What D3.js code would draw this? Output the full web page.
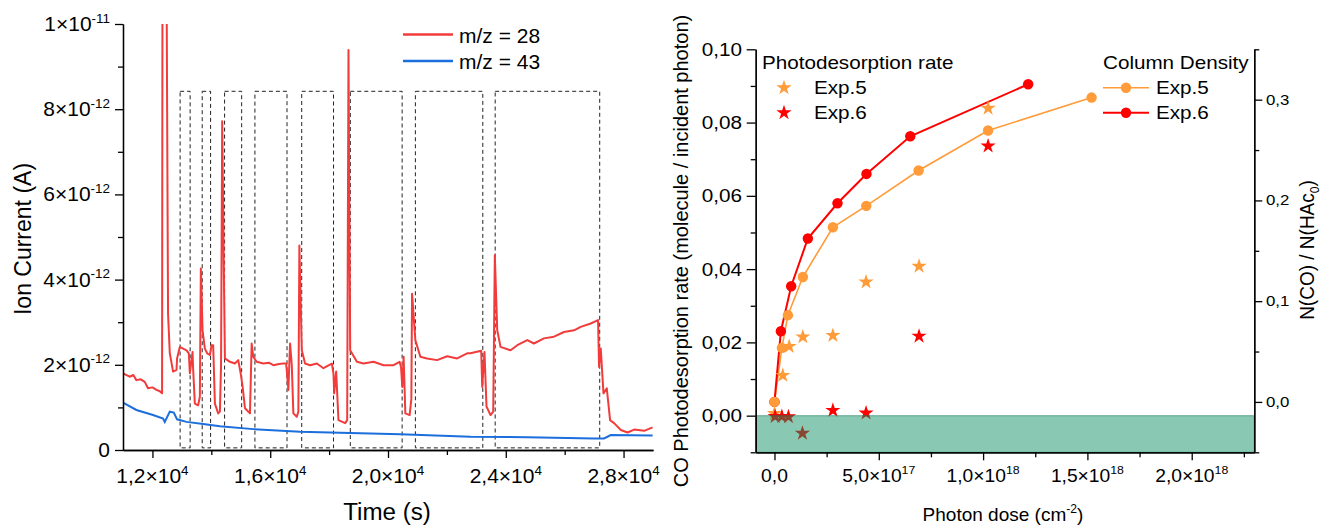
<!DOCTYPE html>
<html>
<head>
<meta charset="utf-8">
<script src="https://cdn.jsdelivr.net/npm/d3@7"></script>
<style>
  body { margin: 0; background: #fff; }
  svg { display: block; font-family: "Liberation Sans", Arial, sans-serif; }
  .axis path, .axis line { stroke: #000; stroke-width: 1.3; }
</style>
</head>
<body>
<div id="chart"></div>
<script>
// ---------- left panel: ion current vs time ----------
// [time (s), current (1e-12 A)]
const m28 = [[11000,1.80],[11227,1.72],[11350,1.76],[11455,1.64],[11600,1.66],[11738,1.60],[11850,1.45],[12000,1.47],
  [12136,1.41],[12250,1.38],[12327,1.33],[12345,14],[12460,14],[12530,3.2],[12589,2.27],[12701,1.84],[12817,1.88],
  [12837,2.15],[12929,2.42],[13157,2.34],[13236,2.27],[13270,1.80],[13362,2.30],[13382,1.90],[13440,1.09],[13552,1.05],
  [13610,1.25],[13644,4.26],[13702,2.81],[13780,2.38],[13859,2.27],[13950,2.23],[14008,2.46],[14063,2.46],[14121,1.09],
  [14233,0.86],[14291,0.90],[14330,2.0],[14369,7.72],[14420,4.5],[14461,2.15],[14631,2.07],[14801,2.03],[14914,2.11],
  [14996,1.80],[15064,1.48],[15142,0.98],[15312,0.86],[15370,2.50],[15424,2.19],[15540,2.07],[15765,2.03],[15950,2.05],
  [16105,1.99],[16300,2.02],[16446,2.03],[16538,2.03],[16561,1.88],[16616,1.41],[16674,2.50],[16732,2.00],[16786,0.86],
  [16902,0.78],[16956,0.90],[16990,4.80],[17072,2.34],[17184,2.03],[17354,1.99],[17583,2.03],[17807,1.92],[18093,2.03],
  [18148,1.80],[18172,1.33],[18240,1.84],[18318,0.70],[18546,0.63],[18614,0.70],[18658,9.39],[18716,2.34],[18944,2.07],
  [19169,2.03],[19509,2.07],[19850,1.99],[20190,1.99],[20394,2.07],[20442,1.95],[20486,1.48],[20531,2.19],[20589,0.86],
  [20735,0.82],[20793,1.20],[20817,3.67],[20929,2.58],[21099,2.19],[21327,2.15],[21668,2.11],[22008,2.20],[22348,2.15],
  [22689,2.27],[22801,2.27],[23166,2.33],[23200,1.48],[23277,2.30],[23345,1.02],[23482,0.82],[23574,0.90],[23628,4.57],
  [23710,2.81],[23822,2.42],[24163,2.34],[24391,2.46],[24731,2.58],[24956,2.50],[25296,2.62],[25637,2.66],[25977,2.77],
  [26317,2.81],[26545,2.89],[26885,2.97],[27134,3.05],[27168,1.95],[27226,2.38],[27318,1.33],[27430,1.45],[27543,0.70],
  [27679,0.63],[27907,0.47],[28135,0.41],[28360,0.48],[28700,0.45],[28986,0.53]];

const m43 = [[11000,1.11],[11455,0.94],[12020,0.82],[12361,0.74],[12419,0.66],[12589,0.90],[12725,0.88],[12837,0.72],
  [13157,0.66],[13722,0.61],[14291,0.56],[15424,0.49],[17014,0.43],[18716,0.40],[20418,0.37],[22801,0.31],[24731,0.30],
  [26998,0.27],[27338,0.27],[27566,0.35],[28986,0.34]];

const boxStart = [12940, 13690, 14450, 15480, 17070, 18720, 20930, 23640];
const boxEnd   = [13280, 13975, 15030, 16570, 18150, 20480, 23220, 27190];
const boxTop = 8.42, boxBottom = 0.05;

const leftYTicks = [0, 2, 4, 6, 8, 10];
const leftXTicks = [12000, 16000, 20000, 24000, 28000];
const leftXLabels = ["1,2", "1,6", "2,0", "2,4", "2,8"];

// ---------- right panel: photodesorption ----------
const doseCol5 = [0, 3.55e16, 6.43e16, 1.36e17, 2.8e17, 4.4e17, 6.91e17, 1.024e18, 1.52e18];
const colExp5  = [0.0, 0.0536, 0.0861, 0.124, 0.1734, 0.1946, 0.2297, 0.2694, 0.3021];
const doseCol6 = [0, 3.07e16, 8.0e16, 1.6e17, 3.02e17, 4.41e17, 6.51e17, 1.216e18];
const colExp6  = [0.0, 0.0702, 0.1148, 0.1622, 0.1972, 0.2263, 0.2637, 0.3153];

const doseRate5 = [0, 4.0e16, 7.05e16, 1.36e17, 2.8e17, 4.39e17, 6.93e17, 1.024e18];
const rateExp5  = [0.0006, 0.0110, 0.0189, 0.0215, 0.0219, 0.0365, 0.0408, 0.0839];
const doseRate6 = [3e15, 3.55e16, 6.7e16, 1.34e17, 2.8e17, 4.39e17, 6.93e17, 1.024e18];
const rateExp6  = [-0.0002, -0.0002, -0.0003, -0.0048, 0.00145, 0.0007, 0.0217, 0.0736];

const rateTicks = [0, 0.02, 0.04, 0.06, 0.08, 0.10];
const colTicks = [0, 0.1, 0.2, 0.3];
const doseTicks = [0, 5e17, 1e18, 1.5e18, 2e18];
const doseLabels = [["0,0"], ["5,0×10", "17"], ["1,0×10", "18"], ["1,5×10", "18"], ["2,0×10", "18"]];

const c5 = "#FF9B38", c6 = "#FF0000";

const W = 1336, H = 529;
const svg = d3.select("#chart").append("svg").attr("width", W).attr("height", H);
svg.append("rect").attr("width", W).attr("height", H).attr("fill", "#fff");

// text with optional superscript / subscript parts, stretched horizontally
function label(g, x, y, parts, o) {
  const size = o.size, sx = o.sx || 1, rot = o.rot || 0;
  const scale = rot ? `scale(1,${sx})` : `scale(${sx},1)`;
  const t = g.append("text")
    .attr("transform", `translate(${x},${y}) rotate(${rot}) ${scale}`)
    .attr("font-size", size)
    .attr("text-anchor", o.anchor || "start")
    .attr("fill", "#000");
  let shift = 0;
  parts.forEach(p => {
    if (typeof p === "string") p = { t: p };
    const ts = t.append("tspan").text(p.t);
    let target = 0;
    if (p.sup) { ts.attr("font-size", size * 0.64); target = -size * 0.42; }
    if (p.sub) { ts.attr("font-size", size * 0.64); target = size * 0.22; }
    if (target - shift !== 0) ts.attr("dy", target - shift);
    shift = target;
  });
  return t;
}

// ================= LEFT =================
const xL = d3.scaleLinear().domain([11000, 29000]).range([123, 653]);
const yL = d3.scaleLinear().domain([0, 10]).range([450, 24]);

svg.append("clipPath").attr("id", "clipL")
  .append("rect").attr("x", 123).attr("y", 24).attr("width", 530).attr("height", 426);

const gL = svg.append("g");

gL.append("g").selectAll("rect").data(boxStart).join("rect")
  .attr("x", (d) => xL(d))
  .attr("width", (d, i) => xL(boxEnd[i]) - xL(d))
  .attr("y", yL(boxTop))
  .attr("height", yL(boxBottom) - yL(boxTop))
  .attr("fill", "none")
  .attr("stroke", "#222")
  .attr("stroke-width", 1)
  .attr("stroke-dasharray", "4,3");

const lineL = d3.line().x(d => xL(d[0])).y(d => yL(d[1]));
gL.append("path").datum(m43).attr("d", lineL)
  .attr("fill", "none").attr("stroke", "#1B6EDC").attr("stroke-width", 2)
  .attr("clip-path", "url(#clipL)");
gL.append("path").datum(m28).attr("d", lineL)
  .attr("fill", "none").attr("stroke", "#F23B3B").attr("stroke-width", 2)
  .attr("stroke-linejoin", "round")
  .attr("clip-path", "url(#clipL)");

gL.append("g").attr("class", "axis").attr("transform", "translate(123,0)")
  .call(d3.axisLeft(yL).tickValues(leftYTicks).tickSize(8).tickSizeOuter(0).tickFormat(""));
gL.append("g").attr("class", "axis").attr("transform", "translate(123,0)")
  .call(d3.axisLeft(yL).tickValues([1, 3, 5, 7, 9]).tickSize(5).tickSizeOuter(0).tickFormat(""));
gL.append("g").attr("class", "axis").attr("transform", "translate(0,450)")
  .call(d3.axisBottom(xL).tickValues(leftXTicks).tickSize(8).tickSizeOuter(0).tickFormat(""));
gL.append("g").attr("class", "axis").attr("transform", "translate(0,450)")
  .call(d3.axisBottom(xL).tickValues([14000, 18000, 22000, 26000]).tickSize(5).tickSizeOuter(0).tickFormat(""));

leftYTicks.forEach(v => {
  const parts = v === 0 ? ["0"] : v === 10 ? ["1×10", { t: "-11", sup: true }] : [`${v}×10`, { t: "-12", sup: true }];
  label(gL, 110, yL(v) + 7, parts, { size: 20, anchor: "end", sx: 1.05 });
});
leftXTicks.forEach((v, i) => {
  label(gL, xL(v), 483, [leftXLabels[i] + "×10", { t: "4", sup: true }], { size: 20, anchor: "middle", sx: 1.05 });
});
label(gL, 387, 520, ["Time (s)"], { size: 23, anchor: "middle", sx: 1.05 });
label(gL, 31, 239, ["Ion Current (A)"], { size: 23, anchor: "middle", rot: -90, sx: 1.05 });

// legend
[["m/z = 28", "#F23B3B", 34.5], ["m/z = 43", "#1B6EDC", 61]].forEach(([t, c, y]) => {
  gL.append("line").attr("x1", 403).attr("x2", 453).attr("y1", y).attr("y2", y)
    .attr("stroke", c).attr("stroke-width", 2.5);
  label(gL, 459, y + 8, [t], { size: 20, sx: 1.05 });
});

// ================= RIGHT =================
const xR = d3.scaleLinear().domain([-0.09e18, 2.3e18]).range([755.7, 1254.3]);
const yRate = d3.scaleLinear().domain([-0.01, 0.10]).range([452.3, 49.3]);
const yCol = d3.scaleLinear().domain([-0.05, 0.35]).range([452.3, 49.3]);

const gR = svg.append("g");
const star = d3.symbol().type(d3.symbolStar).size(72);
const lineCol = d3.line().x(d => xR(d[0])).y(d => yCol(d[1]));

const col5 = doseCol5.map((d, i) => [d, colExp5[i]]);
const col6 = doseCol6.map((d, i) => [d, colExp6[i]]);

gR.append("path").datum(col5).attr("d", lineCol).attr("fill", "none").attr("stroke", c5).attr("stroke-width", 1.6);
gR.append("path").datum(col6).attr("d", lineCol).attr("fill", "none").attr("stroke", c6).attr("stroke-width", 2);
gR.append("g").selectAll("circle").data(col6).join("circle")
  .attr("cx", d => xR(d[0])).attr("cy", d => yCol(d[1])).attr("r", 5.2).attr("fill", c6);
gR.append("g").selectAll("circle").data(col5).join("circle")
  .attr("cx", d => xR(d[0])).attr("cy", d => yCol(d[1])).attr("r", 5.2).attr("fill", c5);

gR.append("g").selectAll("path").data(doseRate5).join("path")
  .attr("transform", (d, i) => `translate(${xR(d)},${yRate(rateExp5[i])})`)
  .attr("d", star).attr("fill", c5);
gR.append("g").selectAll("path").data(doseRate6).join("path")
  .attr("transform", (d, i) => `translate(${xR(d)},${yRate(rateExp6[i])})`)
  .attr("d", star).attr("fill", c6);

// shaded band below zero rate
gR.append("rect")
  .attr("x", xR.range()[0]).attr("width", xR.range()[1] - xR.range()[0])
  .attr("y", yRate(0)).attr("height", yRate(-0.01) - yRate(0))
  .attr("fill", "rgb(14,144,99)").attr("fill-opacity", 0.49)
  .attr("stroke", "rgb(14,120,85)").attr("stroke-opacity", 0.45).attr("stroke-width", 1.2);

// axes
gR.append("g").attr("class", "axis").attr("transform", "translate(755.7,0)")
  .call(d3.axisLeft(yRate).tickValues(rateTicks).tickSize(9).tickSizeOuter(0).tickFormat(""));
gR.append("g").attr("class", "axis").attr("transform", "translate(755.7,0)")
  .call(d3.axisLeft(yRate).tickValues([-0.01, 0.01, 0.03, 0.05, 0.07, 0.09]).tickSize(5).tickSizeOuter(0).tickFormat(""));
gR.append("g").attr("class", "axis").attr("transform", "translate(1254.3,0)")
  .call(d3.axisRight(yCol).tickValues(colTicks).tickSize(8).tickSizeOuter(0).tickFormat(""));
gR.append("g").attr("class", "axis").attr("transform", "translate(1254.3,0)")
  .call(d3.axisRight(yCol).tickValues([-0.05, 0.05, 0.15, 0.25, 0.35]).tickSize(5).tickSizeOuter(0).tickFormat(""));
gR.append("g").attr("class", "axis").attr("transform", "translate(0,452.3)")
  .call(d3.axisBottom(xR).tickValues(doseTicks).tickSize(8).tickSizeOuter(0).tickFormat(""));
gR.append("g").attr("class", "axis").attr("transform", "translate(0,452.3)")
  .call(d3.axisBottom(xR).tickValues([2.5e17, 7.5e17, 1.25e18, 1.75e18, 2.25e18]).tickSize(5).tickSizeOuter(0).tickFormat(""));

rateTicks.forEach(v => {
  label(gR, 742, yRate(v) + 6.5, [v.toFixed(2).replace(".", ",")], { size: 18.5, anchor: "end", sx: 1.12 });
});
colTicks.forEach(v => {
  label(gR, 1266, yCol(v) + 5, [v.toFixed(1).replace(".", ",")], { size: 14, sx: 1.2 });
});
doseTicks.forEach((v, i) => {
  const [m, e] = doseLabels[i];
  const parts = e ? [m, { t: e, sup: true }] : [m];
  label(gR, xR(v), 481.5, parts, { size: 17.5, anchor: "middle", sx: 1.1 });
});
label(gR, 1003, 521, ["Photon dose (cm", { t: "-2", sup: true }, ")"], { size: 19, anchor: "middle" });
label(gR, 688, 251, ["CO Photodesorption rate (molecule / incident photon)"], { size: 20, anchor: "middle", rot: -90, sx: 1.05 });
label(gR, 1314, 250, ["N(CO) / N(HAc", { t: "0", sub: true }, ")"], { size: 19, anchor: "middle", rot: -90, sx: 1.1 });

// legends
label(gR, 762, 69, ["Photodesorption rate"], { size: 17.5, sx: 1.18 });
[[c5, "Exp.5", 87.7], [c6, "Exp.6", 112.7]].forEach(([c, t, y]) => {
  gR.append("path").attr("transform", `translate(784,${y})`).attr("d", star).attr("fill", c);
  label(gR, 814, y + 6.6, [t], { size: 17.5, sx: 1.18 });
});
label(gR, 1103, 69, ["Column Density"], { size: 17.5, sx: 1.18 });
[[c5, "Exp.5", 87.7, 1.6], [c6, "Exp.6", 112.7, 2]].forEach(([c, t, y, w]) => {
  gR.append("line").attr("x1", 1103).attr("x2", 1149).attr("y1", y).attr("y2", y)
    .attr("stroke", c).attr("stroke-width", w);
  gR.append("circle").attr("cx", 1126).attr("cy", y).attr("r", 5.2).attr("fill", c);
  label(gR, 1156, y + 6.6, [t], { size: 17.5, sx: 1.18 });
});
</script>
</body>
</html>
